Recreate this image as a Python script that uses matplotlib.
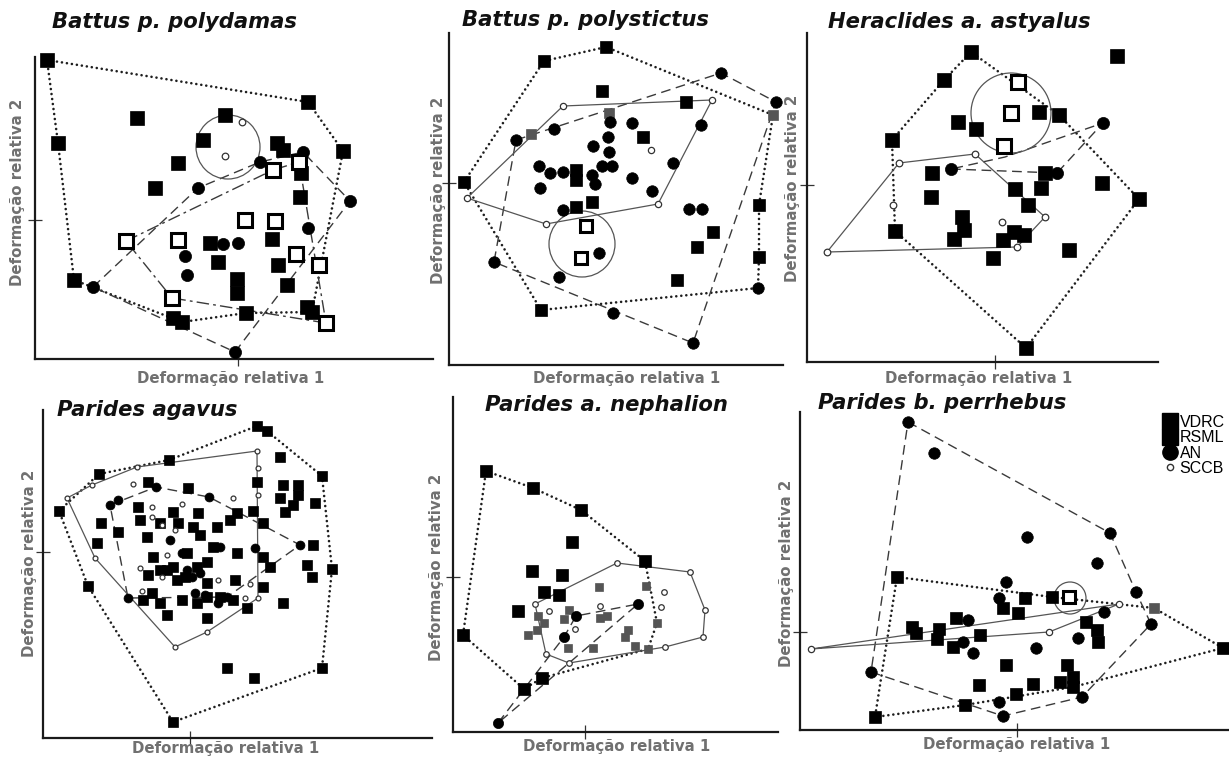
import matplotlib
matplotlib.use('Agg')
from matplotlib import pyplot as plt
from matplotlib.lines import Line2D
from matplotlib.patches import Circle

W, H = 1229, 758

# --- data: (relative warp 1, relative warp 2), arbitrary units, origin at the axis tick ---
TITLES = ["Battus p. polydamas", "Battus p. polystictus", "Heraclides a. astyalus",
          "Parides agavus", "Parides a. nephalion", "Parides b. perrhebus"]
XLABEL = "Deformação relativa 1"
YLABEL = "Deformação relativa 2"
LEGEND_LABELS = ["VDRC", "RSML", "AN", "SCCB"]

# Battus p. polydamas
P1_RSML = [(-191, 160), (70, 118), (-101, 102), (-13, 105), (-180, 77), (-35, 80), (39, 77), (45, 70),
           (105, 69), (-60, 57), (63, 47), (-83, 32), (62, 23), (34, -19), (-28, -23), (-20, -42),
           (40, -45), (-1, -59), (-1, -73), (49, -65), (-164, -60), (-65, -98), (-56, -102), (8, -93),
           (69, -87), (74, -92)]
P1_VDRC = [(35, 50), (61, 58), (7, 0), (37, -1), (-112, -21), (-60, -20), (58, -34), (81, -45),
           (-66, -78), (88, -103)]
P1_AN = [(22, 58), (65, 68), (-40, 32), (112, 19), (70, -8), (-15, -24), (0, -23), (-53, -36),
         (-51, -55), (-145, -67), (-3, -132)]
P1_SCCB = [(4, 98), (-13, 64)]
P1_GREY = []
P1_HULL_RSML = [(-191, 160), (70, 118), (105, 69), (74, -92), (8, -93), (-56, -102), (-164, -60),
                (-180, 77), (-191, 160)]
P1_HULL_AN = [(-145, -67), (-40, 32), (22, 58), (65, 68), (112, 19), (-3, -132), (-145, -67)]
P1_HULL_VDRC = [(-112, -21), (35, 50), (61, 58), (88, -103), (-66, -78), (-112, -21)]
P1_HULL_SCCB = []
P1_RINGS = [(-10, 73, 32)]

# Battus p. polystictus
P2_RSML = [(6, 136), (-56, 122), (2, 92), (86, 81), (43, 46), (-136, 1), (-24, 13), (-24, 3),
           (-24, -24), (-8, -19), (159, -22), (113, -49), (97, -64), (159, -74), (77, -97), (-59, -127)]
P2_GREY = [(9, 70), (-69, 49), (173, 68)]
P2_VDRC = [(-14, -43), (-19, -75)]
P2_AN = [(121, 110), (176, 81), (101, 58), (-84, 43), (-46, 54), (10, 61), (32, 60), (8, 46),
         (-7, 37), (9, 31), (12, 17), (2, 17), (-61, 17), (-50, 10), (-37, 11), (-8, 8), (-5, -1),
         (-60, -5), (32, 5), (73, 20), (52, -8), (-37, -27), (89, -26), (102, -26), (-1, -70),
         (-106, -79), (-41, -94), (13, -130), (158, -105), (93, -160)]
P2_SCCB = [(-37, 77), (112, 83), (51, 33), (-133, -15), (-54, -41), (58, -21)]
P2_HULL_RSML = [(-136, 1), (-56, 122), (6, 136), (173, 68), (159, -22), (159, -74), (158, -105),
                (-59, -127), (-136, 1)]
P2_HULL_AN = [(-84, 43), (121, 110), (176, 81), (93, -160), (-106, -79), (-84, 43)]
P2_HULL_VDRC = []
P2_HULL_SCCB = [(-133, -15), (-37, 77), (112, 83), (58, -21), (-54, -41), (-133, -15)]
P2_RINGS = [(-18, -61, 33)]

# Heraclides a. astyalus
P3_RSML = [(-24, 133), (122, 129), (-51, 105), (44, 73), (64, 70), (-37, 63), (-19, 56), (-103, 45),
           (-63, 12), (50, 12), (107, 2), (144, -14), (20, -4), (46, -3), (-64, -12), (33, -20),
           (-33, -32), (-31, -45), (-41, -54), (19, -47), (29, -50), (8, -55), (-100, -46), (-2, -73),
           (74, -65), (31, -163)]
P3_GREY = []
P3_VDRC = [(23, 103), (16, 72), (9, 39)]
P3_AN = [(108, 62), (-44, 16), (62, 12)]
P3_SCCB = [(-96, 22), (-20, 31), (-102, -20), (50, -32), (7, -37), (22, -62), (-168, -67)]
P3_HULL_RSML = [(-103, 45), (-51, 105), (-24, 133), (64, 70), (144, -14), (31, -163), (-100, -46),
                (-103, 45)]
P3_HULL_AN = [(-44, 16), (62, 12), (108, 62), (10, 28), (-44, 16)]
P3_HULL_VDRC = []
P3_HULL_SCCB = [(-168, -67), (-96, 22), (-20, 31), (50, -32), (22, -62), (-168, -67)]
P3_RINGS = [(16, 72, 40)]

# Parides agavus
P4_RSML = [(-131, 41), (-91, 78), (-21, 92), (67, 126), (77, 121), (132, 76), (142, -17), (132, -116),
           (-17, -170), (-102, -34), (90, 95), (67, 70), (93, 67), (108, 67), (90, 54), (108, 57),
           (103, 47), (95, 40), (125, 49), (63, 41), (73, 29), (-42, 70), (-2, 64), (8, 39), (-89, 29),
           (-93, 9), (-72, 20), (-52, 45), (-50, 32), (-43, 15), (-30, 29), (-17, 40), (-12, 29),
           (3, 25), (10, 17), (27, 25), (40, 32), (47, 39), (23, 5), (47, -1), (73, -5), (80, -15),
           (117, -13), (122, -25), (123, 7), (-37, -5), (-30, -18), (-17, -15), (-5, -25), (7, -15),
           (17, -10), (-42, -23), (-38, -41), (-47, -48), (-30, -51), (-23, -63), (-8, -48), (7, -51),
           (17, -66), (30, -45), (45, -28), (57, -56), (73, -35), (93, -51), (37, -116), (64, -126),
           (-23, -18), (-13, -28), (-3, -1), (17, -31), (17, -45), (43, -48)]
P4_GREY = []
P4_VDRC = []
P4_AN = [(-80, 47), (-72, 52), (-34, 65), (19, 55), (-8, -1), (-20, 12), (-3, -18), (2, -25),
         (30, 5), (65, 4), (110, 7), (-62, -46), (5, -41), (15, -43), (28, -51), (37, -45), (10, -21)]
P4_SCCB = [(-123, 54), (-98, 67), (-53, 85), (67, 101), (68, 84), (68, 57), (-57, 68), (-38, 45),
           (-38, 35), (-28, 27), (-8, 48), (-15, 22), (-23, -3), (-95, -6), (-50, -16), (-28, -25),
           (-48, -39), (28, -28), (60, -32), (68, -46), (55, -46), (43, 54), (17, -80), (-15, -95)]
P4_HULL_RSML = [(-131, 41), (-91, 78), (-21, 92), (67, 126), (77, 121), (132, 76), (142, -17),
                (132, -116), (-17, -170), (-102, -34), (-131, 41)]
P4_HULL_AN = [(-80, 47), (-34, 65), (19, 55), (110, 7), (37, -45), (-62, -46), (-80, 47)]
P4_HULL_VDRC = []
P4_HULL_SCCB = [(-123, 54), (-98, 67), (-53, 85), (67, 101), (68, -46), (17, -80), (-15, -95),
                (-95, -6), (-123, 54)]
P4_RINGS = []

# Parides a. nephalion
P5_RSML = [(-99, 106), (-52, 89), (-4, 67), (-13, 35), (60, 16), (-53, 6), (-23, 2), (-41, -15),
           (-26, -18), (-67, -34), (-122, -58), (-43, -101), (-61, -112)]
P5_GREY = [(14, -10), (61, -9), (-16, -33), (-47, -39), (-41, -46), (-21, -42), (15, -41), (22, -39),
           (-57, -58), (-48, -53), (-17, -71), (8, -71), (43, -53), (40, -60), (50, -69), (63, -72),
           (72, -46)]
P5_VDRC = []
P5_AN = [(53, -27), (-9, -39), (-21, -60), (-87, -146)]
P5_SCCB = [(32, 14), (105, 5), (79, -15), (76, -30), (120, -33), (118, -60), (80, -70), (-50, -27),
           (-36, -34), (15, -29), (-10, -52), (-39, -77), (-16, -86)]
P5_HULL_RSML = [(-99, 106), (-52, 89), (-4, 67), (60, 16), (72, -46), (63, -72), (-43, -101),
                (-61, -112), (-122, -58), (-99, 106)]
P5_HULL_AN = [(-87, -146), (-21, -60), (-9, -39), (53, -27), (-16, -86), (-87, -146)]
P5_HULL_VDRC = []
P5_HULL_SCCB = [(32, 14), (105, 5), (120, -33), (118, -60), (80, -70), (-16, -86), (-39, -77),
                (-50, -27), (32, 14)]
P5_RINGS = []

# Parides b. perrhebus
P6_RSML = [(-120, 55), (8, 34), (35, 35), (-14, 24), (1, 19), (-61, 14), (-105, 5), (-101, -1),
           (-78, 3), (-80, -7), (-37, -3), (-64, -15), (69, 10), (80, 2), (81, -10), (-11, -33),
           (50, -33), (56, -45), (43, -50), (56, -55), (-38, -53), (16, -52), (-1, -62), (-52, -73),
           (-142, -85), (206, -16)]
P6_GREY = [(137, 24)]
P6_VDRC = [(52, 35)]
P6_AN = [(-109, 210), (-83, 179), (10, 95), (93, 99), (80, 69), (-11, 50), (-18, 34), (119, 40),
         (87, 20), (-49, 12), (134, 8), (-54, -10), (-44, -21), (61, -6), (19, -16), (-146, -40),
         (-18, -70), (-14, -84), (65, -65)]
P6_SCCB = [(-206, -17), (32, 0), (102, 28)]
P6_HULL_RSML = [(-120, 55), (35, 35), (137, 24), (206, -16), (56, -55), (-52, -73), (-142, -85),
                (-120, 55)]
P6_HULL_AN = [(-109, 210), (93, 99), (119, 40), (134, 8), (65, -65), (-14, -84), (-146, -40),
              (-109, 210)]
P6_HULL_VDRC = []
P6_HULL_SCCB = [(-206, -17), (102, 28), (32, 0), (-206, -17)]
P6_RINGS = [(53, 34, 16)]

# --- layout (pixel boxes of the axes, label positions, marker sizes) ---
# (left, right, top, bottom) in pixels; x/y limits in data units
BOXES = [(35, 433, 57, 359), (449, 783, 33, 365), (807, 1158, 33, 362),
         (43, 432, 410, 738), (453, 778, 397, 732), (800, 1229, 412, 730)]
XLIMS = [(-203, 195), (-151, 183), (-188, 163), (-147, 242), (-132, 193), (-217, 212)]
YLIMS = [(-139, 163), (-182, 150), (-177, 152), (-186, 142), (-155, 180), (-98, 220)]
XTICK_ON = [True, False, True, True, True, True]
TITLE_POS = [(52, 22), (462, 20), (828, 22), (57, 410), (485, 405), (818, 403)]
XLABEL_POS = [(231, 379), (627, 378), (979, 378), (226, 749), (617, 747), (1017, 745)]
YLABEL_POS = [(18, 192), (438, 190), (793, 188), (30, 563), (437, 567), (787, 573)]
MSIZE = [9.5, 9.0, 9.5, 7.0, 8.0, 9.0]

PANELS = [
    (P1_RSML, P1_GREY, P1_VDRC, P1_AN, P1_SCCB, P1_HULL_RSML, P1_HULL_AN, P1_HULL_VDRC, P1_HULL_SCCB, P1_RINGS),
    (P2_RSML, P2_GREY, P2_VDRC, P2_AN, P2_SCCB, P2_HULL_RSML, P2_HULL_AN, P2_HULL_VDRC, P2_HULL_SCCB, P2_RINGS),
    (P3_RSML, P3_GREY, P3_VDRC, P3_AN, P3_SCCB, P3_HULL_RSML, P3_HULL_AN, P3_HULL_VDRC, P3_HULL_SCCB, P3_RINGS),
    (P4_RSML, P4_GREY, P4_VDRC, P4_AN, P4_SCCB, P4_HULL_RSML, P4_HULL_AN, P4_HULL_VDRC, P4_HULL_SCCB, P4_RINGS),
    (P5_RSML, P5_GREY, P5_VDRC, P5_AN, P5_SCCB, P5_HULL_RSML, P5_HULL_AN, P5_HULL_VDRC, P5_HULL_SCCB, P5_RINGS),
    (P6_RSML, P6_GREY, P6_VDRC, P6_AN, P6_SCCB, P6_HULL_RSML, P6_HULL_AN, P6_HULL_VDRC, P6_HULL_SCCB, P6_RINGS),
]


def fx(px):
    return px / W


def fy(py):
    return 1 - py / H


def unzip(pts):
    return [p[0] for p in pts], [p[1] for p in pts]


def hull(ax, pts, **kw):
    if not pts:
        return
    xs, ys = unzip(pts)
    ax.plot(xs, ys, zorder=2, clip_on=False, **kw)


def points(ax, pts, **kw):
    if not pts:
        return
    xs, ys = unzip(pts)
    ax.plot(xs, ys, ' ', zorder=4, clip_on=False, **kw)


fig = plt.figure(figsize=(W / 100, H / 100), dpi=100)
fig.patch.set_facecolor('white')

for i, (rsml, grey, vdrc, an, sccb, h_rsml, h_an, h_vdrc, h_sccb, rings) in enumerate(PANELS):
    left, right, top, bottom = BOXES[i]
    ax = fig.add_axes([fx(left), fy(bottom), (right - left) / W, (bottom - top) / H])
    ax.set_xlim(*XLIMS[i])
    ax.set_ylim(*YLIMS[i])
    for s in ('top', 'right'):
        ax.spines[s].set_visible(False)
    for s in ('left', 'bottom'):
        ax.spines[s].set_linewidth(1.6)
        ax.spines[s].set_color('#1a1a1a')
    ax.set_yticks([0])
    ax.set_xticks([0] if XTICK_ON[i] else [])
    ax.tick_params(direction='inout', length=10, width=0.9, colors='#333333',
                   labelleft=False, labelbottom=False)
    ax.patch.set_alpha(0)

    ms = MSIZE[i]
    # dotted hull: round dots spaced about 5 px apart
    hull(ax, h_rsml, color='#1e1e1e', lw=1.9, linestyle=(0, (0.01, 1.9)), dash_capstyle='round')
    hull(ax, h_an, color='#3a3a3a', lw=1.0, linestyle=(0, (7, 4)))
    hull(ax, h_vdrc, color='#3a3a3a', lw=1.0, linestyle=(0, (9, 3, 2, 3)))
    hull(ax, h_sccb, color='#555555', lw=0.9, linestyle='-')

    for cx, cy, r in rings:
        ax.add_patch(Circle((cx, cy), r, fill=False, ec='#555555', lw=0.9, zorder=3))

    points(ax, rsml, marker='s', ms=ms, mfc='black', mec='black', mew=0.5)
    points(ax, grey, marker='s', ms=ms * 0.75, mfc='#555555', mec='#555555', mew=0.5)
    points(ax, an, marker='o', ms=ms * 0.92, mfc='black', mec='black', mew=0.5)
    points(ax, vdrc, marker='s', ms=ms * 1.02, mfc='white', mec='black', mew=2.2)
    points(ax, sccb, marker='o', ms=ms * 0.5, mfc='white', mec='#333333', mew=0.9)

    tx, ty = TITLE_POS[i]
    fig.text(fx(tx), fy(ty), TITLES[i], ha='left', va='center', fontsize=15.2,
             fontweight='bold', fontstyle='italic', color='#111111')
    lx, ly = XLABEL_POS[i]
    fig.text(fx(lx), fy(ly), XLABEL, ha='center', va='center', fontsize=10.8,
             fontweight='bold', color='#707070')
    vx, vy = YLABEL_POS[i]
    fig.text(fx(vx), fy(vy), YLABEL, ha='center', va='center', fontsize=10.8,
             fontweight='bold', color='#707070', rotation=90)

handles = [
    Line2D([], [], ls='', marker='s', ms=11, mfc='black', mec='black'),
    Line2D([], [], ls='', marker='s', ms=11, mfc='black', mec='black'),
    Line2D([], [], ls='', marker='o', ms=11, mfc='black', mec='black'),
    Line2D([], [], ls='', marker='o', ms=4.5, mfc='white', mec='#333333', mew=1),
]
fig.legend(handles, LEGEND_LABELS, loc='upper left', bbox_to_anchor=(fx(1154), fy(407)),
           frameon=False, handlelength=1.0, handletextpad=0.1, labelspacing=0.02,
           borderpad=0, prop={'family': 'Liberation Sans', 'size': 11.5})

fig.savefig('out.png', dpi=100)
